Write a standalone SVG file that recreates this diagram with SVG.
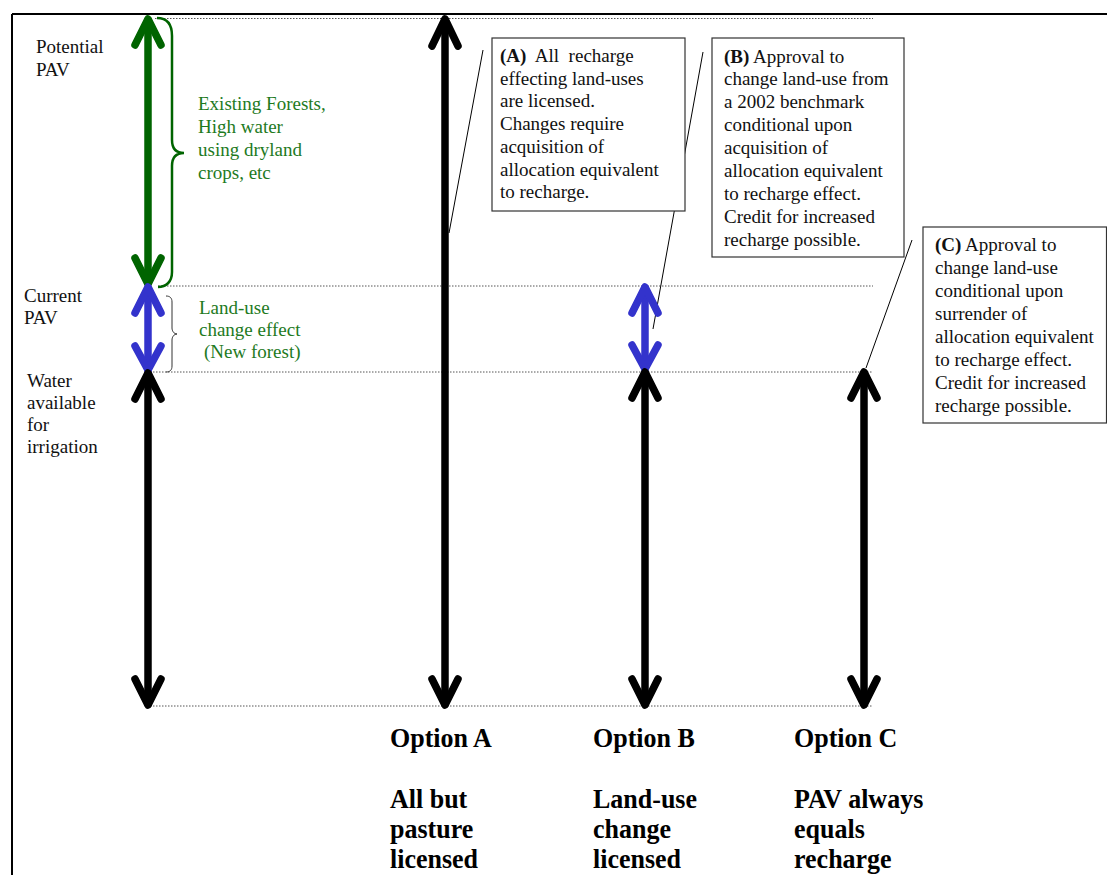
<svg xmlns="http://www.w3.org/2000/svg" width="1107" height="875" viewBox="0 0 1107 875">
<style>
.t{font-family:"Liberation Serif","Times New Roman",serif;font-size:19px;fill:#111}
.g{fill:#1e7a1e}
.b{font-weight:bold}
.opt{font-family:"Liberation Serif","Times New Roman",serif;font-size:26px;font-weight:bold;fill:#000}
.dot{stroke:#555;stroke-width:1;stroke-dasharray:1.5 1.5;fill:none}
.box{fill:#fff;stroke:#333;stroke-width:1.2}
.lead{stroke:#000;stroke-width:1;fill:none}
.shaft{fill:none;stroke-width:7.5;stroke-linecap:round;stroke-linejoin:round}
.k{stroke:#000}
.gr{stroke:#006400}
.bl{stroke:#3333cc}
</style>
<rect x="0" y="0" width="1107" height="875" fill="#fff"/>
<g id="frame">
<line x1="12" y1="14" x2="1107" y2="14" stroke="#000" stroke-width="2"/>
<line x1="12" y1="14" x2="12" y2="875" stroke="#000" stroke-width="2"/>
</g>
<g id="guides">
<line class="dot" x1="155" y1="18.5" x2="873" y2="18.5"/>
<line class="dot" x1="158" y1="286" x2="873" y2="286"/>
<line class="dot" x1="150" y1="372" x2="873" y2="372"/>
<line class="dot" x1="150" y1="706" x2="873" y2="706"/>
</g>
<g id="connectors">
<line class="lead" x1="483" y1="50" x2="449" y2="233"/>
<line class="lead" x1="703" y1="52" x2="653" y2="329"/>
<line class="lead" x1="912" y1="240" x2="866" y2="368"/>
</g>
<g id="left-arrows">
<g id="green-arrow" class="shaft gr">
<line x1="148" y1="20" x2="148" y2="283"/>
<polyline points="135,45 148,19 161,45"/>
<polyline points="135,258 148,284 161,258"/>
</g>
<g id="blue-arrow-left" class="shaft bl">
<line x1="148" y1="288" x2="148" y2="370"/>
<polyline points="135,313 148,287 161,313"/>
<polyline points="135,346 148,370 161,346"/>
</g>
<g id="black-arrow-left" class="shaft k">
<line x1="148" y1="374" x2="148" y2="704"/>
<polyline points="135,399 148,373 161,399"/>
<polyline points="135,679 148,705 161,679"/>
</g>
</g>
<g id="option-a-arrow" class="shaft k">
<line x1="445" y1="20" x2="445" y2="704"/>
<polyline points="432,46 445,19 458,46"/>
<polyline points="432,679 445,705 458,679"/>
</g>
<g id="option-b-arrows">
<g class="shaft bl">
<line x1="645" y1="288" x2="645" y2="369"/>
<polyline points="632,313 645,287 658,313"/>
<polyline points="632,345 645,369 658,345"/>
</g>
<g class="shaft k">
<line x1="645" y1="373" x2="645" y2="704"/>
<polyline points="632,398 645,372 658,398"/>
<polyline points="632,679 645,705 658,679"/>
</g>
</g>
<g id="option-c-arrow" class="shaft k">
<line x1="864" y1="373" x2="864" y2="704"/>
<polyline points="851,398 864,372 877,398"/>
<polyline points="851,679 864,705 877,679"/>
</g>
<g id="braces">
<path d="M157,18 C167,18 172,24 172,36 L172,140 C172,148 176,153 184,153 C176,153 172,158 172,166 L172,272 C172,282 166,287 158,287" fill="none" stroke="#006400" stroke-width="2.5"/>
<path d="M166,296 C170,296 172,298 172,302 L172,328 C172,331 174,334 177,334 C174,334 172,337 172,340 L172,366 C172,370 170,372 166,372" fill="none" stroke="#333" stroke-width="1"/>
</g>
<g id="left-labels" class="t">
<text x="36" y="53">Potential</text>
<text x="36" y="76">PAV</text>
<text x="24" y="302">Current</text>
<text x="24" y="324">PAV</text>
<text x="27" y="387">Water</text>
<text x="27" y="409">available</text>
<text x="27" y="431">for</text>
<text x="27" y="453">irrigation</text>
</g>
<g id="green-labels" class="t g">
<text x="198" y="110">Existing Forests,</text>
<text x="198" y="133">High water</text>
<text x="198" y="156">using dryland</text>
<text x="198" y="179">crops, etc</text>
<text x="199" y="314">Land-use</text>
<text x="199" y="336">change effect</text>
<text x="204" y="358">(New forest)</text>
</g>
<g id="box-a">
<rect class="box" x="492" y="38" width="193" height="173"/>
<g class="t">
<text x="500" y="62" xml:space="preserve"><tspan class="b">(A)</tspan>  All  recharge</text>
<text x="500" y="85">effecting land-uses</text>
<text x="500" y="107">are licensed.</text>
<text x="500" y="130">Changes require</text>
<text x="500" y="153">acquisition of</text>
<text x="500" y="176">allocation equivalent</text>
<text x="500" y="198">to recharge.</text>
</g>
</g>
<g id="box-b">
<rect class="box" x="712" y="38" width="192" height="219"/>
<g class="t">
<text x="724" y="63"><tspan class="b">(B)</tspan> Approval to</text>
<text x="724" y="85">change land-use from</text>
<text x="724" y="108">a 2002 benchmark</text>
<text x="724" y="131">conditional upon</text>
<text x="724" y="154">acquisition of</text>
<text x="724" y="177">allocation equivalent</text>
<text x="724" y="200">to recharge effect.</text>
<text x="724" y="223">Credit for increased</text>
<text x="724" y="246">recharge possible.</text>
</g>
</g>
<g id="box-c">
<rect class="box" x="923" y="227" width="183.5" height="196"/>
<g class="t">
<text x="935" y="251"><tspan class="b">(C)</tspan> Approval to</text>
<text x="935" y="274">change land-use</text>
<text x="935" y="297">conditional upon</text>
<text x="935" y="320">surrender of</text>
<text x="935" y="343">allocation equivalent</text>
<text x="935" y="366">to recharge effect.</text>
<text x="935" y="389">Credit for increased</text>
<text x="935" y="412">recharge possible.</text>
</g>
</g>
<g id="option-a-label" class="opt">
<text transform="translate(390,747) scale(1,1.08)">Option A</text>
<text transform="translate(390,808) scale(1,1.08)">All but</text>
<text transform="translate(390,838) scale(1,1.08)">pasture</text>
<text transform="translate(390,868) scale(1,1.08)">licensed</text>
</g>
<g id="option-b-label" class="opt">
<text transform="translate(593,747) scale(1,1.08)">Option B</text>
<text transform="translate(593,808) scale(1,1.08)">Land-use</text>
<text transform="translate(593,838) scale(1,1.08)">change</text>
<text transform="translate(593,868) scale(1,1.08)">licensed</text>
</g>
<g id="option-c-label" class="opt">
<text transform="translate(794,747) scale(1,1.08)">Option C</text>
<text transform="translate(794,808) scale(1,1.08)">PAV always</text>
<text transform="translate(794,838) scale(1,1.08)">equals</text>
<text transform="translate(794,868) scale(1,1.08)">recharge</text>
</g>
</svg>
